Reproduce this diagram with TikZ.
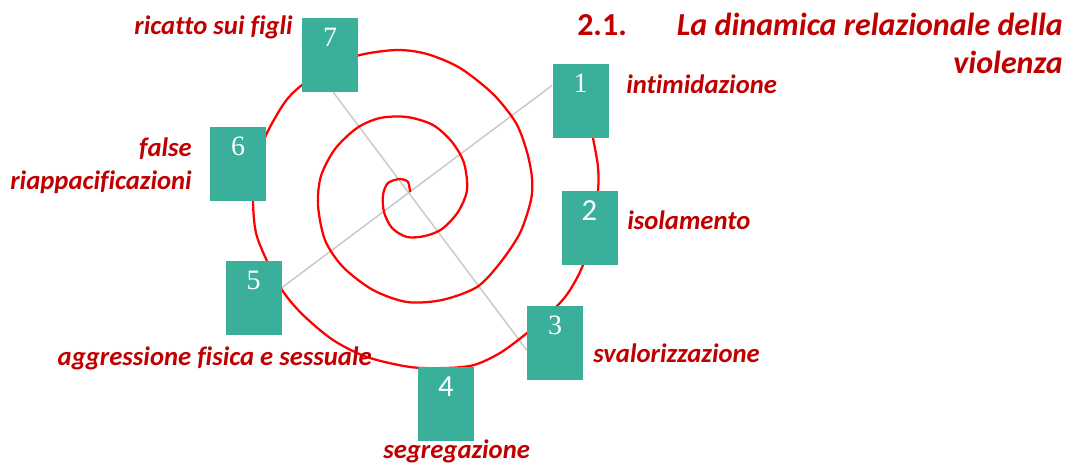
\documentclass[tikz,border=0pt]{standalone}
\usepackage{fontspec}
\setmainfont{Carlito}[Ligatures=NoCommon]
\newfontfamily\numserif{Liberation Serif}
\usetikzlibrary{positioning}
\usetikzlibrary{backgrounds}
\definecolor{boxgreen}{HTML}{3AB09A}
\definecolor{labelred}{HTML}{C00000}
\definecolor{linkgray}{HTML}{C8C8C8}
\tikzset{
	box/.style={
		rectangle,
		fill=boxgreen,
		minimum width=42pt,
		minimum height=55.5pt,
		inner sep=0pt},
	num/.style={
		text=white,
		anchor=north,
		inner sep=0pt,
		yshift=-7.5pt,
		font=\numserif\fontsize{21}{21}\selectfont},
	numsans/.style={
		num,
		font=\fontsize{23}{23}\selectfont},
	lbl/.style={
		text=labelred,
		inner sep=0pt,
		font=\bfseries\itshape\fontsize{20}{24.75}\selectfont},
	heading/.style={
		text=labelred,
		inner sep=0pt,
		font=\bfseries\fontsize{24}{28.5}\selectfont},
	link/.style={
		draw=linkgray,
		line width=1.1pt},
	coil/.style={
		draw=red,
		line width=1.7pt}
}

\begin{document}
\begin{tikzpicture}[x=0.75pt,y=-0.75pt]
	\useasboundingbox (0,0) rectangle (1068,465);
	\node[box] (b7) at (330,55) {};
	\node[box] (b1) at (580.5,101) {};
	\node[box] (b6) at (238,164) {};
	\node[box] (b2) at (589.5,228) {};
	\node[box] (b5) at (253.5,298) {};
	\node[box] (b3) at (555,342.5) {};
	\node[box] (b4) at (446,404) {};
	\node[num] (n7) at (b7.north) {7};
	\node[num] (n1) at (b1.north) {1};
	\node[num] (n6) at (b6.north) {6};
	\node[numsans] (n2) at (b2.north) {2};
	\node[num] (n5) at (b5.north) {5};
	\node[num] (n3) at (b3.north) {3};
	\node[numsans] (n4) at (b4.north) {4};
	\node[lbl, anchor=base east] (l7) at (293,34) {ricatto sui figli};
	\node[lbl, anchor=base west] (l1) at (626,93) {intimidazione};
	\node[lbl, anchor=base east, align=right] (l6) at (192,189) {false\\riappacificazioni};
	\node[lbl, anchor=base west] (l2) at (627,229) {isolamento};
	\node[lbl, anchor=base east] (l5) at (372,365) {aggressione fisica e sessuale};
	\node[lbl, anchor=base west] (l3) at (593,362) {svalorizzazione};
	\node[lbl, anchor=base west] (l4) at (383,458) {segregazione};
	\node[heading, anchor=base west] (sec) at (577,35) {2.1.};
	\node[heading, anchor=base east, align=right] (ttl) at (1063,73) {\itshape La dinamica relazionale della\\\itshape violenza};
	\begin{pgfonlayer}{background}
		\draw[link] (b1.151) -- (b5.20);
		\draw[link] (b7.-85) -- (b3.195);
		\draw[coil] plot[smooth] coordinates {(410,192) (408,182) (400,179) (388,183) (383,195) (384,212) (392,228) (407,237) (425,236) (442,229) (458,212) (467,190) (464,163) (452,142) (433,125) (407,117) (380,118) (357,128) (335,149) (321,176) (318,205) (325,240) (343,267) (373,290) (407,302) (442,300) (477,287) (500,263) (520,233) (531,200) (532,178) (527,152) (516,123) (493,94) (460,68) (427,54) (397,50) (360,55) (330,67) (302,85) (285,102) (267,133) (255,166) (253,201) (256,233) (267,261) (282,290) (302,314) (333,340) (367,357) (410,367) (446,368) (474,365) (500,353) (527,333) (557,306) (570,290) (583,265) (593,228) (598,191) (598,167) (593,138) (588,115)};
	\end{pgfonlayer}
\end{tikzpicture}
\end{document}
